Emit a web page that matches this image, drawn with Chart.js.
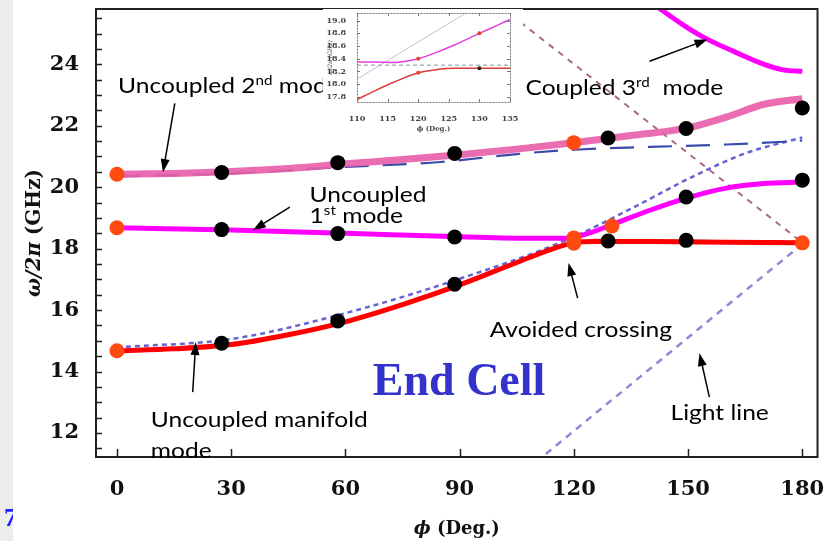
<!DOCTYPE html>
<html>
<head>
<meta charset="utf-8">
<script src="https://cdn.jsdelivr.net/npm/chart.js@4/dist/chart.umd.min.js"></script>
<style>
  html, body { margin: 0; padding: 0; background: #fff; }
  #wrap { position: relative; width: 825px; height: 541px; overflow: hidden; }
  #main { position: absolute; left: 0; top: 0; }
  #inset { position: absolute; left: 323px; top: 9px; background: #fff; }
</style>
</head>
<body>
<div id="wrap">
  <canvas id="main" width="825" height="541"></canvas>
  <canvas id="inset" width="200" height="128"></canvas>
</div>
<script>
// ---- main plot data (phase in degrees, frequency in GHz) ----
const xTicks = [0, 30, 60, 90, 120, 150, 180];
const yTicks = [12, 14, 16, 18, 20, 22, 24];

const blackPhi = [27.5, 58, 88.7, 129, 149.5, 180, 27.5, 58, 88.7, 129, 149.5, 27.5, 58, 88.7, 149.5, 180];
const blackF   = [20.48, 20.80, 21.10, 21.60, 21.91, 22.58, 18.62, 18.49, 18.38, 18.25, 18.27, 14.92, 15.65, 16.84, 19.68, 20.23];

const orangePhi = [0, 0, 0, 120, 120, 120, 130, 180];
const orangeF   = [20.42, 18.68, 14.68, 21.45, 18.35, 18.18, 18.74, 18.19];

const mode2Phi = [0, 15, 30, 45, 60, 75, 90, 105, 120, 135, 150, 160, 170, 180];
const mode2F   = [20.42, 20.45, 20.51, 20.61, 20.76, 20.9, 21.06, 21.24, 21.45, 21.68, 21.93, 22.28, 22.7, 22.88];

const mode1Phi = [0, 30, 60, 90, 110, 118, 125, 130, 140, 150, 160, 170, 180];
const mode1F   = [18.68, 18.61, 18.5, 18.39, 18.34, 18.34, 18.55, 18.78, 19.25, 19.66, 19.97, 20.12, 20.17];

const manifoldPhi = [0, 15, 30, 45, 60, 75, 90, 105, 115, 120, 125, 140, 160, 180];
const manifoldF   = [14.68, 14.74, 14.88, 15.2, 15.62, 16.18, 16.82, 17.55, 18.02, 18.19, 18.23, 18.23, 18.21, 18.19];

const mode3Phi = [141, 150, 155, 162, 170, 175, 180];
const mode3F   = [25.95, 25.18, 24.82, 24.42, 24.0, 23.82, 23.77];

const mode2UncPhi = [0, 30, 60, 85, 105, 120, 140, 160, 175, 180];
const mode2UncF   = [20.35, 20.45, 20.66, 20.82, 21.08, 21.22, 21.31, 21.39, 21.48, 21.52];

const mode1UncPhi = [0, 30, 60, 90, 120, 150, 180];
const mode1UncF   = [18.7, 18.62, 18.5, 18.38, 18.3, 18.26, 18.24];

const manifoldUncPhi = [0, 30, 60, 90, 118, 135, 151, 165, 180];
const manifoldUncF   = [14.79, 15.06, 15.9, 17.02, 18.28, 19.3, 20.33, 21.1, 21.62];

const lightPhi = [110, 180];
const lightF   = [11.05, 18.15];

const mauvePhi = [101, 180];
const mauveF   = [25.85, 18.2];

// ---- inset data ----
const inXTicks = [110, 115, 120, 125, 130, 135];
const inYTicks = [17.8, 18.0, 18.2, 18.4, 18.6, 18.8, 19.0];

const inUpPhi = [110, 113, 116, 118, 120, 123, 126, 130, 133, 135];
const inUpF   = [18.35, 18.35, 18.34, 18.36, 18.40, 18.5, 18.62, 18.8, 18.93, 19.02];
const inLowPhi = [110, 113, 116, 120, 123, 126, 130, 135];
const inLowF   = [17.76, 17.9, 18.03, 18.18, 18.23, 18.25, 18.25, 18.25];
const inFlatPhi = [110, 135];
const inFlatF   = [18.3, 18.3];
const inLightPhi = [110, 127.8];
const inLightF   = [18.08, 19.12];
const inRedDotPhi = [120, 130, 120];
const inRedDotF   = [18.4, 18.8, 18.18];
const inBlackDotPhi = [130];
const inBlackDotF   = [18.25];

const pts = (xs, ys) => xs.map((x, i) => ({ x: x, y: ys[i] }));

const line = (label, xs, ys, color, width, dash) => ({
  label: label,
  data: pts(xs, ys),
  showLine: true,
  borderColor: color,
  borderWidth: width,
  borderDash: dash || [],
  pointRadius: 0,
  cubicInterpolationMode: 'monotone',
  fill: false
});

const dots = (label, xs, ys, color, r) => ({
  label: label,
  data: pts(xs, ys),
  showLine: false,
  pointRadius: r,
  pointBackgroundColor: color,
  pointBorderColor: color,
  pointBorderWidth: 0
});

// annotation texts & arrows, in data coordinates
const notes = [
  { parts: ['Uncoupled 2', '^nd', ' mode'], x: 0.3, y: 23.06 },
  { parts: ['Coupled 3', '^rd', '  mode'], x: 107.3, y: 22.99 },
  { parts: ['Uncoupled'], x: 50.6, y: 19.51 },
  { parts: ['1', '^st', ' mode'], x: 50.6, y: 18.83 },
  { parts: ['Avoided crossing'], x: 97.9, y: 15.12 },
  { parts: ['Uncoupled manifold'], x: 8.9, y: 12.2 },
  { parts: ['mode'], x: 8.9, y: 11.2 },
  { parts: ['Light line'], x: 145.4, y: 12.42 }
];
const arrows = [
  [15.2, 22.73, 12.1, 20.49],
  [45.4, 19.35, 35.7, 18.6],
  [139.9, 24.1, 155.1, 24.81],
  [121.0, 16.39, 118.6, 17.53],
  [19.9, 13.33, 20.7, 14.96],
  [155.6, 13.17, 153.0, 14.6]
];

// text on the slide is stretched sideways a little
function richText(ctx, parts, x, y, size, family, sx) {
  ctx.save();
  ctx.translate(x, y);
  ctx.scale(sx, 1);
  let cx = 0;
  parts.forEach(p => {
    const sup = p.startsWith('^');
    const t = sup ? p.slice(1) : p;
    ctx.font = (sup ? Math.round(size * 0.62) : size) + 'px ' + family;
    ctx.fillText(t, cx, sup ? -size * 0.4 : 0);
    cx += ctx.measureText(t).width;
  });
  ctx.restore();
}

function arrow(ctx, x1, y1, x2, y2) {
  const a = Math.atan2(y2 - y1, x2 - x1);
  const L = 13, W = 4.5;
  ctx.beginPath();
  ctx.moveTo(x1, y1);
  ctx.lineTo(x2 - L * 0.8 * Math.cos(a), y2 - L * 0.8 * Math.sin(a));
  ctx.stroke();
  ctx.beginPath();
  ctx.moveTo(x2, y2);
  ctx.lineTo(x2 - L * Math.cos(a) + W * Math.sin(a), y2 - L * Math.sin(a) - W * Math.cos(a));
  ctx.lineTo(x2 - L * Math.cos(a) - W * Math.sin(a), y2 - L * Math.sin(a) + W * Math.cos(a));
  ctx.closePath();
  ctx.fill();
}

const noPad = s => { s.paddingTop = 0; s.paddingBottom = 0; s.paddingLeft = 0; s.paddingRight = 0; };

const decor = {
  id: 'decor',
  beforeDraw(chart) {
    const ctx = chart.ctx;
    ctx.save();
    ctx.fillStyle = '#fff';
    ctx.fillRect(0, 0, chart.width, chart.height);
    ctx.fillStyle = '#ececec';
    ctx.fillRect(0, 0, 13, chart.height);
    ctx.beginPath();
    ctx.rect(0, 0, 13, chart.height);
    ctx.clip();
    ctx.fillStyle = '#1f1fff';
    ctx.font = 'bold 26px "Liberation Serif"';
    ctx.fillText('7', 4, 526);
    ctx.restore();
  },
  afterDraw(chart) {
    const ctx = chart.ctx;
    const a = chart.chartArea;
    const xs = chart.scales.x, ys = chart.scales.y;
    ctx.save();
    // frame
    ctx.strokeStyle = '#222';
    ctx.lineWidth = 2;
    ctx.strokeRect(a.left, a.top, a.right - a.left, a.bottom - a.top);
    // inward ticks
    ctx.lineWidth = 1.5;
    ctx.beginPath();
    for (let v = 11.5; v <= 25.5; v += 0.5) {
      const py = Math.round(ys.getPixelForValue(v)) + 0.5;
      ctx.moveTo(a.left, py);
      ctx.lineTo(a.left + 6, py);
    }
    xTicks.forEach(v => {
      const px = Math.round(xs.getPixelForValue(v)) + 0.5;
      ctx.moveTo(px, a.bottom);
      ctx.lineTo(px, a.bottom - 8);
    });
    ctx.stroke();
    // axis titles
    ctx.fillStyle = '#111';
    ctx.textBaseline = 'alphabetic';
    ctx.save();
    ctx.translate(40, (a.top + a.bottom) / 2);
    ctx.rotate(-Math.PI / 2);
    ctx.font = 'italic bold 20px "DejaVu Serif"';
    const w1 = ctx.measureText('ω/2π').width;
    ctx.font = 'bold 20px "DejaVu Serif"';
    const w2 = ctx.measureText(' (GHz)').width;
    ctx.font = 'italic bold 20px "DejaVu Serif"';
    ctx.fillText('ω/2π', -(w1 + w2) / 2, 0);
    ctx.font = 'bold 20px "DejaVu Serif"';
    ctx.fillText(' (GHz)', -(w1 + w2) / 2 + w1, 0);
    ctx.restore();
    ctx.font = 'italic bold 18px "DejaVu Serif"';
    const t1 = ctx.measureText('ϕ').width;
    ctx.font = 'bold 18px "DejaVu Serif"';
    const t2 = ctx.measureText(' (Deg.)').width;
    const cx = (a.left + a.right) / 2 - (t1 + t2) / 2;
    ctx.font = 'italic bold 18px "DejaVu Serif"';
    ctx.fillText('ϕ', cx, 534);
    ctx.font = 'bold 18px "DejaVu Serif"';
    ctx.fillText(' (Deg.)', cx + t1, 534);
    // "End Cell"
    ctx.fillStyle = '#3333cc';
    ctx.font = 'bold 46px "Liberation Serif"';
    ctx.fillText('End Cell', xs.getPixelForValue(67.2), ys.getPixelForValue(13.24));
    // notes
    ctx.fillStyle = '#000';
    notes.forEach(n => richText(ctx, n.parts, xs.getPixelForValue(n.x), ys.getPixelForValue(n.y), 21, 'Lato', 1.17));
    ctx.strokeStyle = '#000';
    ctx.lineWidth = 1.5;
    arrows.forEach(r => arrow(ctx, xs.getPixelForValue(r[0]), ys.getPixelForValue(r[1]),
                                   xs.getPixelForValue(r[2]), ys.getPixelForValue(r[3])));
    ctx.restore();
  }
};

const tickFont = { family: '"DejaVu Serif"', size: 21, weight: 'bold' };

new Chart(document.getElementById('main'), {
  type: 'scatter',
  data: {
    datasets: [
      dots('black', blackPhi, blackF, '#000', 7.5),
      dots('orange', orangePhi, orangeF, '#ff4a12', 7.5),
      line('manifold', manifoldPhi, manifoldF, '#ff0000', 5),
      line('mode1', mode1Phi, mode1F, '#ff00ff', 5),
      line('mode2', mode2Phi, mode2F, 'rgba(232,96,170,0.92)', 7),
      line('mode3', mode3Phi, mode3F, '#ff00ff', 5),
      line('mode1 uncoupled', mode1UncPhi, mode1UncF, '#3a4aa8', 2, [22, 12]),
      line('mode2 uncoupled', mode2UncPhi, mode2UncF, '#3a4aa8', 2.2, [24, 14]),
      line('manifold uncoupled', manifoldUncPhi, manifoldUncF, '#6464d2', 2.5, [5, 4]),
      line('light line', lightPhi, lightF, '#8a8ad6', 2.5, [7, 6]),
      line('light line 2', mauvePhi, mauveF, '#a86a8c', 2, [6, 6])
    ]
  },
  options: {
    responsive: false,
    animation: false,
    layout: { padding: { top: 9, right: 7, left: 0, bottom: 0 } },
    plugins: { legend: { display: false }, tooltip: { enabled: false } },
    scales: {
      x: {
        type: 'linear',
        min: -5.5,
        max: 184,
        grid: { display: false },
        border: { display: false },
        ticks: { font: tickFont, color: '#111', padding: 12, maxRotation: 0 },
        afterBuildTicks: s => { s.ticks = xTicks.map(v => ({ value: v })); },
        afterFit: s => { s.height = 84; noPad(s); }
      },
      y: {
        type: 'linear',
        min: 11.22,
        max: 25.8,
        grid: { display: false },
        border: { display: false },
        ticks: { font: tickFont, color: '#111', padding: 9 },
        afterBuildTicks: s => { s.ticks = yTicks.map(v => ({ value: v })); },
        afterFit: s => { s.width = 96; noPad(s); }
      }
    }
  },
  plugins: [decor]
});

// ---- inset ----
const insetFrame = {
  id: 'insetFrame',
  beforeDraw(chart) {
    const ctx = chart.ctx;
    ctx.save();
    ctx.fillStyle = '#fff';
    ctx.fillRect(0, 0, chart.width, chart.height);
    ctx.restore();
  },
  afterDraw(chart) {
    const ctx = chart.ctx;
    const a = chart.chartArea;
    const xs = chart.scales.x, ys = chart.scales.y;
    ctx.save();
    ctx.strokeStyle = '#777';
    ctx.lineWidth = 1;
    ctx.setLineDash([2, 1]);
    ctx.strokeRect(a.left + 0.5, a.top + 0.5, a.right - a.left, a.bottom - a.top);
    ctx.setLineDash([]);
    ctx.beginPath();
    inYTicks.forEach(v => {
      const py = Math.round(ys.getPixelForValue(v)) + 0.5;
      ctx.moveTo(a.left, py); ctx.lineTo(a.left + 3, py);
      ctx.moveTo(a.right, py); ctx.lineTo(a.right - 3, py);
    });
    inXTicks.forEach(v => {
      const px = Math.round(xs.getPixelForValue(v)) + 0.5;
      ctx.moveTo(px, a.bottom); ctx.lineTo(px, a.bottom - 3);
      ctx.moveTo(px, a.top); ctx.lineTo(px, a.top + 3);
    });
    ctx.stroke();
    ctx.fillStyle = '#444';
    ctx.save();
    ctx.translate(9, (a.top + a.bottom) / 2);
    ctx.rotate(-Math.PI / 2);
    ctx.textAlign = 'center';
    ctx.font = 'italic 6px "DejaVu Serif"';
    ctx.fillText('ω/2π (GHz)', 0, 0);
    ctx.restore();
    ctx.textAlign = 'center';
    ctx.font = 'bold 7px "DejaVu Serif"';
    ctx.fillText('ϕ (Deg.)', (a.left + a.right) / 2, 122);
    ctx.restore();
  }
};

const inFont = { family: '"DejaVu Serif"', size: 8, weight: 'bold' };

new Chart(document.getElementById('inset'), {
  type: 'scatter',
  data: {
    datasets: [
      dots('red dots', inRedDotPhi, inRedDotF, '#e8402a', 2),
      dots('black dot', inBlackDotPhi, inBlackDotF, '#222', 2),
      line('upper', inUpPhi, inUpF, '#e040e0', 1.5),
      line('lower', inLowPhi, inLowF, '#e03a3a', 1.5),
      line('flat', inFlatPhi, inFlatF, '#7a9aa0', 1, [4, 3]),
      line('light', inLightPhi, inLightF, '#c0c0d8', 1)
    ]
  },
  options: {
    responsive: false,
    animation: false,
    layout: { padding: { top: 3, right: 13, left: 0, bottom: 0 } },
    plugins: { legend: { display: false }, tooltip: { enabled: false } },
    scales: {
      x: {
        type: 'linear', min: 110, max: 135,
        grid: { display: false }, border: { display: false },
        ticks: { font: inFont, color: '#444', padding: 4, maxRotation: 0 },
        afterBuildTicks: s => { s.ticks = inXTicks.map(v => ({ value: v })); },
        afterFit: s => { s.height = 35; noPad(s); }
      },
      y: {
        type: 'linear', min: 17.72, max: 19.12,
        grid: { display: false }, border: { display: false },
        ticks: { font: inFont, color: '#444', padding: 3, callback: v => v.toFixed(1) },
        afterBuildTicks: s => { s.ticks = inYTicks.map(v => ({ value: v })); },
        afterFit: s => { s.width = 34; noPad(s); }
      }
    }
  },
  plugins: [insetFrame]
});
</script>
</body>
</html>
